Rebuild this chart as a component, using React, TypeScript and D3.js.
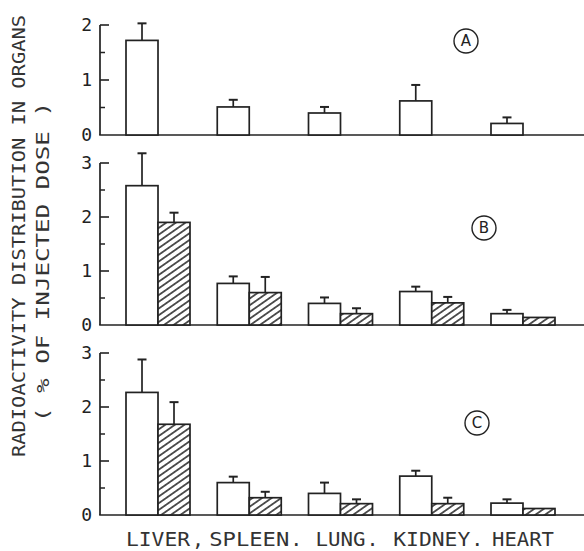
import React from "react";
import * as d3 from "d3";

const organs = ["LIVER", "SPLEEN", "LUNG", "KIDNEY", "HEART"];
const separators = [",", ".", ".", "."];
const panelNames = ["A", "B", "C"];
const panelMax = [2, 3, 3];

// open (white) bars and upper error (SD)
const openA = [1.72, 0.51, 0.4, 0.62, 0.21];
const openAErr = [0.31, 0.13, 0.11, 0.29, 0.11];
const openB = [2.58, 0.77, 0.4, 0.62, 0.21];
const openBErr = [0.6, 0.13, 0.11, 0.09, 0.07];
const hatchB = [1.9, 0.6, 0.21, 0.41, 0.14];
const hatchBErr = [0.18, 0.29, 0.1, 0.11, 0];
const openC = [2.27, 0.6, 0.4, 0.72, 0.22];
const openCErr = [0.61, 0.11, 0.2, 0.1, 0.07];
const hatchC = [1.68, 0.32, 0.21, 0.21, 0.12];
const hatchCErr = [0.41, 0.11, 0.08, 0.11, 0];

const yTitle1 = "RADIOACTIVITY DISTRIBUTION IN ORGANS";
const yTitle2 = "( % OF INJECTED DOSE )";

const W = 584;
const H = 551;
const INK = "#222";
const MONO = "'DejaVu Sans Mono', monospace";

type Series = { key: string; values: number[]; errs: number[] };

const panels: { name: string; max: number; bottom: number; top: number; series: Series[]; labelPos: [number, number] }[] = [
  { name: panelNames[0], max: panelMax[0], bottom: 135, top: 25, series: [{ key: "open", values: openA, errs: openAErr }], labelPos: [466, 41] },
  { name: panelNames[1], max: panelMax[1], bottom: 325, top: 163, series: [{ key: "open", values: openB, errs: openBErr }, { key: "hatched", values: hatchB, errs: hatchBErr }], labelPos: [484, 228] },
  { name: panelNames[2], max: panelMax[2], bottom: 515, top: 353, series: [{ key: "open", values: openC, errs: openCErr }, { key: "hatched", values: hatchC, errs: hatchCErr }], labelPos: [477, 423] },
];

const AXIS_X = 100;

export default function App() {
  const x = d3
    .scaleBand<string>()
    .domain(organs)
    .range([AXIS_X, 581])
    .paddingInner(0.2986)
    .paddingOuter(0.285);
  const sub = d3.scaleBand<string>().domain(["open", "hatched"]).range([0, x.bandwidth()]).padding(0);
  const labelWidths = [64, 80, 50, 77, 62];

  return (
    <svg width={W} height={H} style={{ display: "block", position: "absolute", left: 0, top: 0, background: "#fff" }}>
      <defs>
        <pattern id="hatch" width={8} height={5.5} patternUnits="userSpaceOnUse" patternTransform="rotate(-35)">
          <rect width={8} height={5.5} fill="#fff" />
          <line x1={0} y1={2.75} x2={8} y2={2.75} stroke={INK} strokeWidth={1.5} />
        </pattern>
      </defs>
      <rect width={W} height={H} fill="#fff" />

      {panels.map((p) => {
        const y = d3.scaleLinear().domain([0, p.max]).range([p.bottom, p.top]);
        const majors = d3.range(0, p.max + 0.001, 1);
        const minors = d3.range(0.5, p.max, 1);
        return (
          <g key={p.name}>
            {/* axis */}
            <line x1={AXIS_X} x2={AXIS_X} y1={y(p.max)} y2={y(0)} stroke={INK} strokeWidth={1.7} />
            <line x1={AXIS_X - 0.8} x2={W} y1={y(0)} y2={y(0)} stroke={INK} strokeWidth={1.7} />
            {majors.map((t) => (
              <g key={"M" + t}>
                {t > 0 && <line x1={AXIS_X} x2={AXIS_X + 9} y1={y(t)} y2={y(t)} stroke={INK} strokeWidth={1.6} />}
                <text x={AXIS_X - 8} y={y(t)} dy="0.36em" textAnchor="end" fontFamily={MONO} fontSize={18} fill={INK}>
                  {t}
                </text>
              </g>
            ))}
            {minors.map((t) => (
              <line key={"m" + t} x1={AXIS_X} x2={AXIS_X + 5} y1={y(t)} y2={y(t)} stroke={INK} strokeWidth={1.5} />
            ))}
            {/* bars */}
            {p.series.map((s) =>
              organs.map((o, i) => {
                const bx = (x(o) as number) + (sub(s.key) as number);
                const bw = sub.bandwidth();
                const v = s.values[i];
                const e = s.errs[i];
                const cx = bx + bw / 2;
                return (
                  <g key={s.key + o}>
                    {e > 0 && (
                      <g stroke={INK} strokeWidth={1.7}>
                        <line x1={cx} x2={cx} y1={y(v)} y2={y(v + e)} />
                        <line x1={cx - 4.5} x2={cx + 4.5} y1={y(v + e)} y2={y(v + e)} strokeWidth={2} />
                      </g>
                    )}
                    <rect
                      x={bx}
                      y={y(v)}
                      width={bw}
                      height={y(0) - y(v)}
                      fill={s.key === "hatched" ? "url(#hatch)" : "#fff"}
                      stroke={INK}
                      strokeWidth={1.7}
                    />
                  </g>
                );
              })
            )}
            {/* panel letter */}
            <circle cx={p.labelPos[0]} cy={p.labelPos[1]} r={12} fill="none" stroke={INK} strokeWidth={1.4} />
            <text x={p.labelPos[0]} y={p.labelPos[1]} dy="0.36em" textAnchor="middle" fontFamily="'DejaVu Sans', sans-serif" fontSize={15} fill={INK}>
              {p.name}
            </text>
          </g>
        );
      })}

      {/* category labels */}
      {organs.map((o, i) => {
        const cx = (x(o) as number) + x.bandwidth() / 2;
        return (
          <text
            key={o}
            x={cx}
            y={546}
            textAnchor="middle"
            fontFamily={MONO}
            fontSize={20}
            fill="#333"
            textLength={labelWidths[i]}
            lengthAdjust="spacingAndGlyphs"
          >
            {o}
          </text>
        );
      })}
      {separators.map((sep, i) => {
        const endPrev = (x(organs[i]) as number) + x.bandwidth() / 2 + labelWidths[i] / 2;
        return (
          <text key={"sep" + i} x={endPrev + (i === 0 ? 8 : 7)} y={546} textAnchor="middle" fontFamily={MONO} fontSize={20} fill="#333">
            {sep}
          </text>
        );
      })}

      {/* y-axis title */}
      <text
        transform="translate(25,236) rotate(-90)"
        textAnchor="middle"
        fontFamily={MONO}
        fontSize={18}
        fill="#333"
        textLength={442}
        lengthAdjust="spacingAndGlyphs"
      >
        {yTitle1}
      </text>
      <text
        transform="translate(49,262) rotate(-90)"
        textAnchor="middle"
        fontFamily={MONO}
        fontSize={18}
        fill="#333"
        textLength={320}
        lengthAdjust="spacingAndGlyphs"
      >
        {yTitle2}
      </text>
    </svg>
  );
}
